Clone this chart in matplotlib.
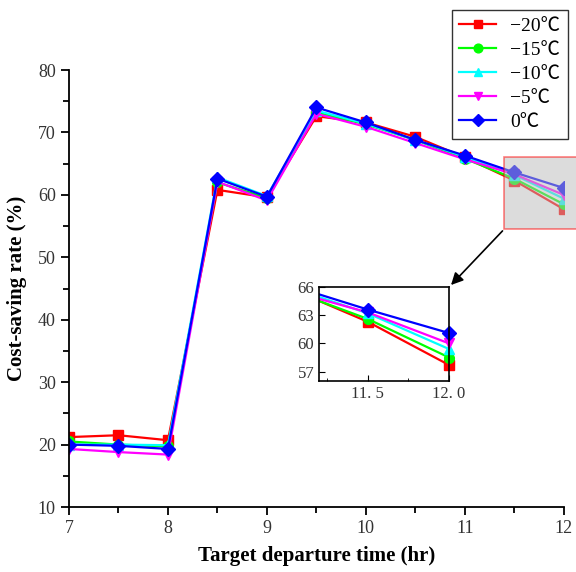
import matplotlib
matplotlib.use("Agg")
import matplotlib.pyplot as plt
from matplotlib.patches import Rectangle
from matplotlib.ticker import MultipleLocator

plt.rcParams['font.family'] = ['Liberation Serif', 'Noto Sans CJK SC', 'DejaVu Sans']

# target departure time (hr)
hours = [7, 7.5, 8, 8.5, 9, 9.5, 10, 10.5, 11, 11.5, 12]

# cost-saving rate (%) per ambient temperature
t_m20 = [21.2, 21.5, 20.7, 60.8, 59.6, 72.6, 71.6, 69.3, 66.0, 62.3, 57.7]
t_m15 = [20.5, 20.0, 19.7, 62.0, 59.5, 73.2, 71.3, 68.8, 65.8, 62.6, 58.5]
t_m10 = [20.0, 20.0, 19.9, 62.8, 59.8, 73.5, 71.4, 68.8, 66.1, 63.2, 59.4]
t_m5 = [19.3, 18.8, 18.4, 62.1, 59.1, 73.0, 70.9, 68.3, 65.7, 63.3, 60.0]
t_0 = [20.0, 19.8, 19.3, 62.6, 59.7, 74.0, 71.6, 68.8, 66.3, 63.6, 61.1]

labels = ['\u221220\u2103', '\u221215\u2103', '\u221210\u2103', '\u22125\u2103', '0\u2103']
series = [t_m20, t_m15, t_m10, t_m5, t_0]
colors = ['#ff0000', '#00ff00', '#00ffff', '#ff00ff', '#0000ff']
markers = ['s', 'o', '^', 'v', 'D']

fig = plt.figure(figsize=(5.76, 5.72), dpi=100)
ax = fig.add_axes([0.1198, 0.1136, 0.859, 0.764])

for ys, lab, c, m in zip(series, labels, colors, markers):
    ax.plot(hours, ys, color=c, marker=m, markersize=7, linewidth=1.6, label=lab)

ax.set_xlim(7, 12)
ax.set_ylim(10, 80)
ax.xaxis.set_major_locator(MultipleLocator(1))
ax.xaxis.set_minor_locator(MultipleLocator(0.5))
ax.yaxis.set_major_locator(MultipleLocator(10))
ax.yaxis.set_minor_locator(MultipleLocator(5))
ax.spines['top'].set_visible(False)
ax.spines['right'].set_visible(False)
for s in ['left', 'bottom']:
    ax.spines[s].set_linewidth(1.3)
ax.tick_params(which='major', direction='out', length=6, width=1.3, labelsize=13, colors='black')
ax.tick_params(which='minor', direction='out', length=4, width=1.3)
for t in ax.get_xticklabels() + ax.get_yticklabels():
    t.set_color('#333333')

ax.set_xlabel('Target departure time (hr)', fontsize=15, fontweight='bold', labelpad=6)
ax.set_ylabel('Cost-saving rate (%)', fontsize=15, fontweight='bold', labelpad=8)

leg = ax.legend(loc='upper right', bbox_to_anchor=(0.986, 0.983), bbox_transform=fig.transFigure,
                borderaxespad=0, fontsize=14, frameon=True, fancybox=False, edgecolor='black',
                handlelength=1.9, labelspacing=0.33, borderpad=0.4, handletextpad=0.7,
                markerscale=0.9)
leg.get_frame().set_linewidth(1.0)

# highlighted zoom region
rect = Rectangle((11.4, 54.55), 0.75, 11.55, facecolor='#bbbbbb', alpha=0.5,
                 edgecolor='red', linewidth=1.2, clip_on=False, zorder=5)
ax.add_patch(rect)

# inset
axi = fig.add_axes([0.554, 0.3339, 0.2257, 0.1643])
for ys, c, m in zip(series, colors, markers):
    axi.plot(hours, ys, color=c, linewidth=1.6)
    axi.plot(hours[-2:], ys[-2:], color=c, marker=m, markersize=7, linestyle='none', clip_on=False)
axi.set_xlim(11.2, 12.0)
axi.set_ylim(56, 66)
axi.set_xticks([11.5, 12.0])
axi.set_xticklabels(['11. 5', '12. 0'])
axi.set_yticks([57, 60, 63, 66])
axi.xaxis.set_minor_locator(MultipleLocator(0.25))
axi.tick_params(which='major', direction='in', length=4, labelsize=12, colors='black')
axi.tick_params(which='minor', direction='in', length=2)
for t in axi.get_xticklabels() + axi.get_yticklabels():
    t.set_color('#333333')
for s in axi.spines.values():
    s.set_linewidth(1.2)

ax.annotate('', xy=(1.0, 1.0), xycoords=axi.transAxes,
            xytext=(11.4, 54.55), textcoords='data',
            arrowprops=dict(arrowstyle='-|>', color='black', lw=1.2, mutation_scale=18),
            annotation_clip=False, zorder=6)

fig.savefig('out.png', dpi=100)
